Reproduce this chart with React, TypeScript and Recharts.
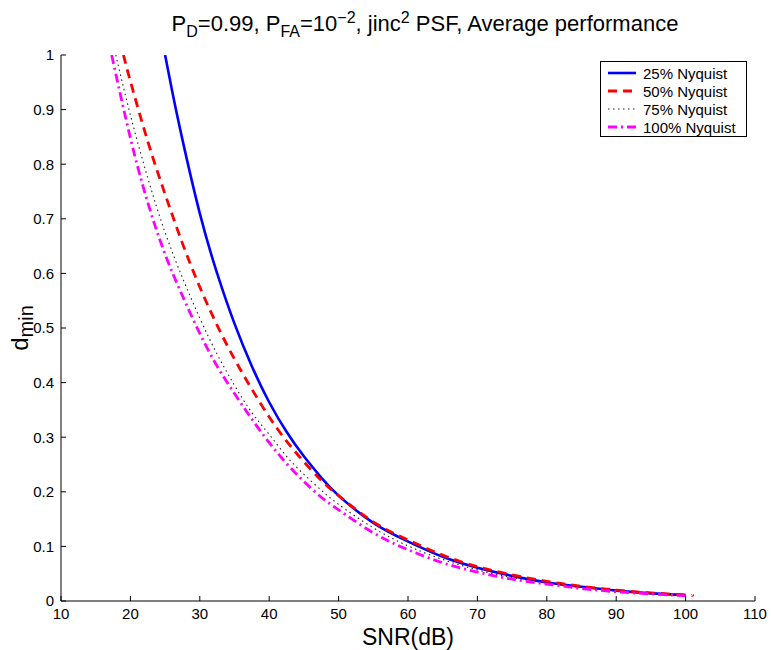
import React from 'react';
import { LineChart, Line, XAxis, YAxis } from 'recharts';

// SNR (dB) sample points and d_min readings, one pair per curve
const snr25 = [25, 26, 27.5, 30, 32.5, 35, 37.5, 40, 42.5, 45, 47.5, 50, 55, 60, 65, 70, 75, 80, 85, 90, 95, 100];
const dmin25 = [1.0, 0.935, 0.845, 0.71, 0.6, 0.508, 0.43, 0.364, 0.31, 0.265, 0.226, 0.193, 0.143, 0.109, 0.081, 0.061, 0.046, 0.034, 0.026, 0.019, 0.014, 0.011];

const snr50 = [19, 20, 22.5, 25, 27.5, 30, 32.5, 35, 37.5, 40, 42.5, 45, 47.5, 50, 55, 60, 65, 70, 75, 80, 85, 90, 95, 100, 101];
const dmin50 = [1.0, 0.952, 0.842, 0.745, 0.655, 0.575, 0.505, 0.443, 0.388, 0.337, 0.293, 0.255, 0.221, 0.193, 0.145, 0.112, 0.084, 0.063, 0.048, 0.036, 0.027, 0.02, 0.015, 0.011, 0.0105];

const snr75 = [17.9, 20, 22.5, 25, 27.5, 30, 32.5, 35, 37.5, 40, 42.5, 45, 47.5, 50, 55, 60, 65, 70, 75, 80, 85, 90, 95, 100];
const dmin75 = [1.0, 0.89, 0.775, 0.675, 0.592, 0.518, 0.452, 0.395, 0.345, 0.305, 0.265, 0.232, 0.203, 0.177, 0.134, 0.101, 0.076, 0.057, 0.043, 0.033, 0.025, 0.019, 0.014, 0.0105];

const snr100 = [17.3, 20, 22.5, 25, 27.5, 30, 32.5, 35, 37.5, 40, 42.5, 45, 47.5, 50, 55, 60, 65, 70, 75, 80, 85, 90, 95, 100];
const dmin100 = [1.0, 0.848, 0.73, 0.635, 0.559, 0.49, 0.43, 0.38, 0.333, 0.29, 0.252, 0.219, 0.19, 0.167, 0.125, 0.094, 0.07, 0.053, 0.04, 0.031, 0.023, 0.017, 0.013, 0.0095];

const snrTicks = [10, 20, 30, 40, 50, 60, 70, 80, 90, 100, 110];
const dTicks = [0, 0.1, 0.2, 0.3, 0.4, 0.5, 0.6, 0.7, 0.8, 0.9, 1];

const seriesNames = ['25% Nyquist', '50% Nyquist', '75% Nyquist', '100% Nyquist'];

const toPoints = (xs: number[], ys: number[]) => xs.map((snr, i) => ({ snr, d: ys[i] }));

const FONT = '"Liberation Sans", Arial, Helvetica, sans-serif';

const styles = [
  { stroke: '#0000ff', strokeWidth: 2.6, dash: undefined as string | undefined },
  { stroke: '#ff0000', strokeWidth: 2.8, dash: '9 6' },
  { stroke: '#222222', strokeWidth: 1.1, dash: '1.5 3.5' },
  { stroke: '#ff00ff', strokeWidth: 2.8, dash: '9 4 2 4' },
];

const series = [
  toPoints(snr25, dmin25),
  toPoints(snr50, dmin50),
  toPoints(snr75, dmin75),
  toPoints(snr100, dmin100),
];

const fmtD = (v: number) => (v === 0 || v === 1 ? String(v) : v.toFixed(1));

const tickStyle = { fill: '#000', fontSize: 15, fontFamily: FONT };

const App: React.FC = () => {
  return (
    <div style={{ position: 'absolute', left: 0, top: 0, width: 771, height: 650, background: '#fff', fontFamily: FONT }}>
      <div
        style={{
          position: 'absolute', left: 425, top: 9, transform: 'translateX(-50%)',
          whiteSpace: 'nowrap', fontSize: 22, color: '#000',
        }}
      >
        P<sub style={{ fontSize: 16 }}>D</sub>=0.99, P<sub style={{ fontSize: 16 }}>FA</sub>=10<sup style={{ fontSize: 16 }}>−2</sup>, jinc<sup style={{ fontSize: 16 }}>2</sup> PSF, Average performance
      </div>

      <div
        style={{
          position: 'absolute', left: 22, top: 328, transform: 'translate(-50%, -50%) rotate(-90deg)',
          whiteSpace: 'nowrap', fontSize: 24, color: '#000',
        }}
      >
        d<sub style={{ fontSize: 20 }}>min</sub>
      </div>

      <LineChart width={771} height={650} margin={{ top: 55, right: 16, left: 0, bottom: 0 }}>
        <XAxis
          type="number" dataKey="snr" domain={[10, 110]} ticks={snrTicks} allowDataOverflow
          height={49} tickSize={-5} tickMargin={12} tick={tickStyle}
          axisLine={{ stroke: '#000' }} tickLine={{ stroke: '#000' }}
          label={{ value: 'SNR(dB)', position: 'insideBottom', offset: 5, style: { fill: '#000', fontSize: 23, fontFamily: FONT } }}
        />
        <XAxis
          xAxisId="top" orientation="top" type="number" dataKey="snr" domain={[10, 110]} ticks={snrTicks}
          height={0} tickSize={-5} tick={false} axisLine={{ stroke: '#000' }} tickLine={{ stroke: '#000' }}
        />
        <YAxis
          type="number" domain={[0, 1]} ticks={dTicks} allowDataOverflow width={61}
          tickSize={-5} tickMargin={12} tickFormatter={fmtD} tick={tickStyle}
          axisLine={{ stroke: '#000' }} tickLine={{ stroke: '#000' }}
        />
        <YAxis
          yAxisId="right" orientation="right" type="number" domain={[0, 1]} ticks={dTicks}
          width={0} tickSize={-5} tick={false} axisLine={{ stroke: '#000' }} tickLine={{ stroke: '#000' }}
        />
        {series.map((pts, i) => (
          <Line
            key={seriesNames[i]}
            name={seriesNames[i]}
            data={pts}
            dataKey="d"
            type="natural"
            stroke={styles[i].stroke}
            strokeWidth={styles[i].strokeWidth}
            strokeDasharray={styles[i].dash}
            dot={false}
            activeDot={false}
            isAnimationActive={false}
          />
        ))}
      </LineChart>

      <div
        style={{
          position: 'absolute', left: 600, top: 61, width: 145, height: 74,
          border: '1px solid #000', background: '#fff', fontSize: 15, color: '#000',
        }}
      >
        {seriesNames.map((name, i) => (
          <div key={name} style={{ position: 'absolute', left: 0, top: 2 + i * 18, height: 18, display: 'flex', alignItems: 'center', whiteSpace: 'nowrap' }}>
            <svg width={42} height={18} style={{ display: 'block' }}>
              <line
                x1={7} y1={9} x2={35} y2={9}
                stroke={styles[i].stroke} strokeWidth={styles[i].strokeWidth}
                strokeDasharray={styles[i].dash}
              />
            </svg>
            <span>{name}</span>
          </div>
        ))}
      </div>
    </div>
  );
};

export default App;
